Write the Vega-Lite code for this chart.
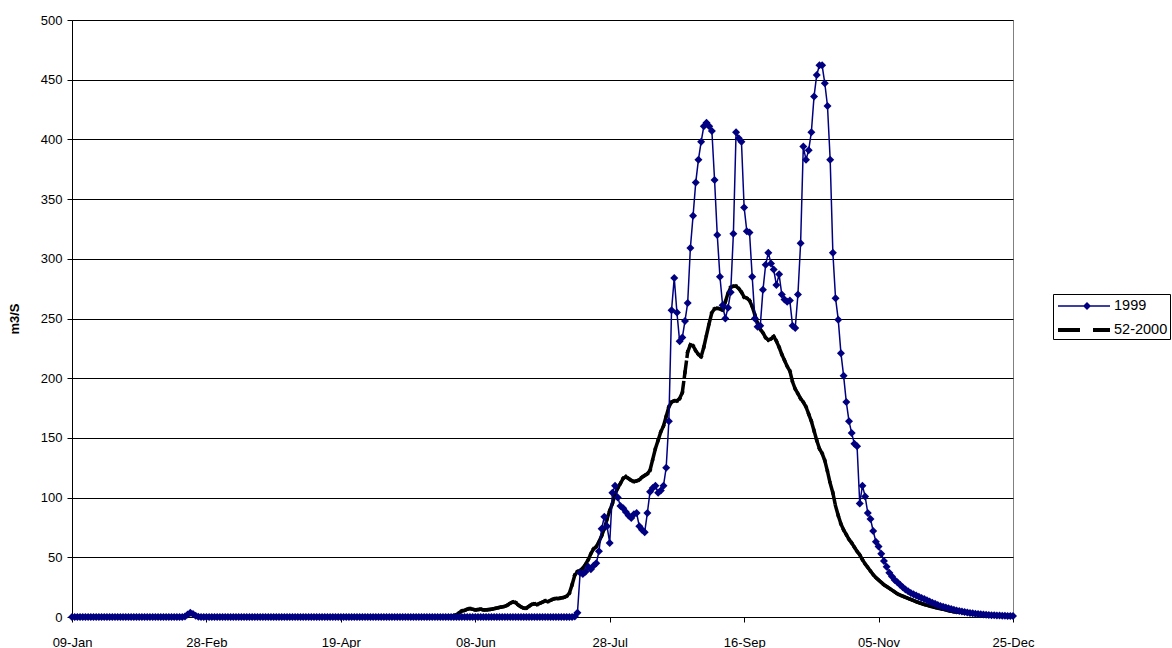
{
"$schema":"https://vega.github.io/schema/vega-lite/v6.json",
"width":941,"height":597,
"autosize":{"type":"none"},
"padding":{"left":72,"top":20,"right":159,"bottom":31},
"background":"white",
"config":{"view":{"stroke":"#808080","strokeWidth":1},"font":"Liberation Sans"},
"data":{"format":{"parse":{"d":"date:'%Y-%m-%d'"}},"values":[
{"d":"1999-01-09","y1999":0,"avg":0.3},{"d":"1999-01-10","y1999":0,"avg":0.3},{"d":"1999-01-11","y1999":0,"avg":0.3},{"d":"1999-01-12","y1999":0,"avg":0.3},{"d":"1999-01-13","y1999":0,"avg":0.3},{"d":"1999-01-14","y1999":0,"avg":0.3},{"d":"1999-01-15","y1999":0,"avg":0.3},{"d":"1999-01-16","y1999":0,"avg":0.3},{"d":"1999-01-17","y1999":0,"avg":0.3},{"d":"1999-01-18","y1999":0,"avg":0.3},{"d":"1999-01-19","y1999":0,"avg":0.3},{"d":"1999-01-20","y1999":0,"avg":0.3},{"d":"1999-01-21","y1999":0,"avg":0.3},{"d":"1999-01-22","y1999":0,"avg":0.3},{"d":"1999-01-23","y1999":0,"avg":0.3},{"d":"1999-01-24","y1999":0,"avg":0.3},{"d":"1999-01-25","y1999":0,"avg":0.3},{"d":"1999-01-26","y1999":0,"avg":0.3},{"d":"1999-01-27","y1999":0,"avg":0.3},{"d":"1999-01-28","y1999":0,"avg":0.3},{"d":"1999-01-29","y1999":0,"avg":0.3},{"d":"1999-01-30","y1999":0,"avg":0.3},{"d":"1999-01-31","y1999":0,"avg":0.3},
{"d":"1999-02-01","y1999":0,"avg":0.3},{"d":"1999-02-02","y1999":0,"avg":0.3},{"d":"1999-02-03","y1999":0,"avg":0.3},{"d":"1999-02-04","y1999":0,"avg":0.3},{"d":"1999-02-05","y1999":0,"avg":0.3},{"d":"1999-02-06","y1999":0,"avg":0.3},{"d":"1999-02-07","y1999":0,"avg":0.3},{"d":"1999-02-08","y1999":0,"avg":0.3},{"d":"1999-02-09","y1999":0,"avg":0.3},{"d":"1999-02-10","y1999":0,"avg":0.3},{"d":"1999-02-11","y1999":0,"avg":0.3},{"d":"1999-02-12","y1999":0,"avg":0.3},{"d":"1999-02-13","y1999":0,"avg":0.3},{"d":"1999-02-14","y1999":0,"avg":0.3},{"d":"1999-02-15","y1999":0,"avg":0.3},{"d":"1999-02-16","y1999":0,"avg":0.3},{"d":"1999-02-17","y1999":0,"avg":0.3},{"d":"1999-02-18","y1999":0,"avg":0.3},{"d":"1999-02-19","y1999":0,"avg":0.3},{"d":"1999-02-20","y1999":0.5,"avg":0.8},{"d":"1999-02-21","y1999":2,"avg":1.5},{"d":"1999-02-22","y1999":3.5,"avg":2.5},{"d":"1999-02-23","y1999":2.5,"avg":2},{"d":"1999-02-24","y1999":1,"avg":1},{"d":"1999-02-25","y1999":0.3,"avg":0.5},{"d":"1999-02-26","y1999":0,"avg":0.3},{"d":"1999-02-27","y1999":0,"avg":0.3},{"d":"1999-02-28","y1999":0,"avg":0.3},
{"d":"1999-03-01","y1999":0,"avg":0.3},{"d":"1999-03-02","y1999":0,"avg":0.3},{"d":"1999-03-03","y1999":0,"avg":0.3},{"d":"1999-03-04","y1999":0,"avg":0.3},{"d":"1999-03-05","y1999":0,"avg":0.3},{"d":"1999-03-06","y1999":0,"avg":0.3},{"d":"1999-03-07","y1999":0,"avg":0.3},{"d":"1999-03-08","y1999":0,"avg":0.3},{"d":"1999-03-09","y1999":0,"avg":0.3},{"d":"1999-03-10","y1999":0,"avg":0.3},{"d":"1999-03-11","y1999":0,"avg":0.3},{"d":"1999-03-12","y1999":0,"avg":0.3},{"d":"1999-03-13","y1999":0,"avg":0.3},{"d":"1999-03-14","y1999":0,"avg":0.3},{"d":"1999-03-15","y1999":0,"avg":0.3},{"d":"1999-03-16","y1999":0,"avg":0.3},{"d":"1999-03-17","y1999":0,"avg":0.3},{"d":"1999-03-18","y1999":0,"avg":0.3},{"d":"1999-03-19","y1999":0,"avg":0.3},{"d":"1999-03-20","y1999":0,"avg":0.3},{"d":"1999-03-21","y1999":0,"avg":0.3},{"d":"1999-03-22","y1999":0,"avg":0.3},{"d":"1999-03-23","y1999":0,"avg":0.3},{"d":"1999-03-24","y1999":0,"avg":0.3},{"d":"1999-03-25","y1999":0,"avg":0.3},{"d":"1999-03-26","y1999":0,"avg":0.3},{"d":"1999-03-27","y1999":0,"avg":0.3},{"d":"1999-03-28","y1999":0,"avg":0.3},{"d":"1999-03-29","y1999":0,"avg":0.3},{"d":"1999-03-30","y1999":0,"avg":0.3},{"d":"1999-03-31","y1999":0,"avg":0.3},
{"d":"1999-04-01","y1999":0,"avg":0.3},{"d":"1999-04-02","y1999":0,"avg":0.3},{"d":"1999-04-03","y1999":0,"avg":0.3},{"d":"1999-04-04","y1999":0,"avg":0.3},{"d":"1999-04-05","y1999":0,"avg":0.3},{"d":"1999-04-06","y1999":0,"avg":0.3},{"d":"1999-04-07","y1999":0,"avg":0.3},{"d":"1999-04-08","y1999":0,"avg":0.3},{"d":"1999-04-09","y1999":0,"avg":0.3},{"d":"1999-04-10","y1999":0,"avg":0.3},{"d":"1999-04-11","y1999":0,"avg":0.3},{"d":"1999-04-12","y1999":0,"avg":0.3},{"d":"1999-04-13","y1999":0,"avg":0.3},{"d":"1999-04-14","y1999":0,"avg":0.3},{"d":"1999-04-15","y1999":0,"avg":0.3},{"d":"1999-04-16","y1999":0,"avg":0.3},{"d":"1999-04-17","y1999":0,"avg":0.3},{"d":"1999-04-18","y1999":0,"avg":0.3},{"d":"1999-04-19","y1999":0,"avg":0.3},{"d":"1999-04-20","y1999":0,"avg":0.3},{"d":"1999-04-21","y1999":0,"avg":0.3},{"d":"1999-04-22","y1999":0,"avg":0.3},{"d":"1999-04-23","y1999":0,"avg":0.3},{"d":"1999-04-24","y1999":0,"avg":0.3},{"d":"1999-04-25","y1999":0,"avg":0.3},{"d":"1999-04-26","y1999":0,"avg":0.3},{"d":"1999-04-27","y1999":0,"avg":0.3},{"d":"1999-04-28","y1999":0,"avg":0.3},{"d":"1999-04-29","y1999":0,"avg":0.3},{"d":"1999-04-30","y1999":0,"avg":0.3},
{"d":"1999-05-01","y1999":0,"avg":0.3},{"d":"1999-05-02","y1999":0,"avg":0.3},{"d":"1999-05-03","y1999":0,"avg":0.3},{"d":"1999-05-04","y1999":0,"avg":0.3},{"d":"1999-05-05","y1999":0,"avg":0.3},{"d":"1999-05-06","y1999":0,"avg":0.3},{"d":"1999-05-07","y1999":0,"avg":0.3},{"d":"1999-05-08","y1999":0,"avg":0.3},{"d":"1999-05-09","y1999":0,"avg":0.3},{"d":"1999-05-10","y1999":0,"avg":0.3},{"d":"1999-05-11","y1999":0,"avg":0.3},{"d":"1999-05-12","y1999":0,"avg":0.3},{"d":"1999-05-13","y1999":0,"avg":0.3},{"d":"1999-05-14","y1999":0,"avg":0.3},{"d":"1999-05-15","y1999":0,"avg":0.3},{"d":"1999-05-16","y1999":0,"avg":0.3},{"d":"1999-05-17","y1999":0,"avg":0.3},{"d":"1999-05-18","y1999":0,"avg":0.3},{"d":"1999-05-19","y1999":0,"avg":0.3},{"d":"1999-05-20","y1999":0,"avg":0.3},{"d":"1999-05-21","y1999":0,"avg":0.3},{"d":"1999-05-22","y1999":0,"avg":0.3},{"d":"1999-05-23","y1999":0,"avg":0.3},{"d":"1999-05-24","y1999":0,"avg":0.3},{"d":"1999-05-25","y1999":0,"avg":0.3},{"d":"1999-05-26","y1999":0,"avg":0.3},{"d":"1999-05-27","y1999":0,"avg":0.3},{"d":"1999-05-28","y1999":0,"avg":0.3},{"d":"1999-05-29","y1999":0,"avg":0.5},{"d":"1999-05-30","y1999":0,"avg":0.8},{"d":"1999-05-31","y1999":0,"avg":1.2},
{"d":"1999-06-01","y1999":0,"avg":2},{"d":"1999-06-02","y1999":0,"avg":3.5},{"d":"1999-06-03","y1999":0,"avg":5},{"d":"1999-06-04","y1999":0,"avg":5.5},{"d":"1999-06-05","y1999":0,"avg":6.5},{"d":"1999-06-06","y1999":0,"avg":7},{"d":"1999-06-07","y1999":0,"avg":6.5},{"d":"1999-06-08","y1999":0,"avg":6},{"d":"1999-06-09","y1999":0,"avg":6.2},{"d":"1999-06-10","y1999":0,"avg":6.5},{"d":"1999-06-11","y1999":0,"avg":6},{"d":"1999-06-12","y1999":0,"avg":6},{"d":"1999-06-13","y1999":0,"avg":6.2},{"d":"1999-06-14","y1999":0,"avg":6.5},{"d":"1999-06-15","y1999":0,"avg":7},{"d":"1999-06-16","y1999":0,"avg":7.5},{"d":"1999-06-17","y1999":0,"avg":8},{"d":"1999-06-18","y1999":0,"avg":8.5},{"d":"1999-06-19","y1999":0,"avg":9},{"d":"1999-06-20","y1999":0,"avg":10},{"d":"1999-06-21","y1999":0,"avg":11.5},{"d":"1999-06-22","y1999":0,"avg":12.5},{"d":"1999-06-23","y1999":0,"avg":12},{"d":"1999-06-24","y1999":0,"avg":10},{"d":"1999-06-25","y1999":0,"avg":8.5},{"d":"1999-06-26","y1999":0,"avg":7.5},{"d":"1999-06-27","y1999":0,"avg":7.5},{"d":"1999-06-28","y1999":0,"avg":9},{"d":"1999-06-29","y1999":0,"avg":10.5},{"d":"1999-06-30","y1999":0,"avg":11},
{"d":"1999-07-01","y1999":0,"avg":10.5},{"d":"1999-07-02","y1999":0,"avg":11.5},{"d":"1999-07-03","y1999":0,"avg":12.5},{"d":"1999-07-04","y1999":0,"avg":13.5},{"d":"1999-07-05","y1999":0,"avg":13},{"d":"1999-07-06","y1999":0,"avg":14},{"d":"1999-07-07","y1999":0,"avg":15},{"d":"1999-07-08","y1999":0,"avg":15.5},{"d":"1999-07-09","y1999":0,"avg":15.5},{"d":"1999-07-10","y1999":0,"avg":16},{"d":"1999-07-11","y1999":0,"avg":16.5},{"d":"1999-07-12","y1999":0,"avg":17.5},{"d":"1999-07-13","y1999":0,"avg":20},{"d":"1999-07-14","y1999":0,"avg":27},{"d":"1999-07-15","y1999":0.5,"avg":35},{"d":"1999-07-16","y1999":3.5,"avg":38},{"d":"1999-07-17","y1999":37,"avg":39},{"d":"1999-07-18","y1999":36,"avg":41},{"d":"1999-07-19","y1999":38,"avg":44},{"d":"1999-07-20","y1999":42,"avg":48},{"d":"1999-07-21","y1999":40,"avg":53},{"d":"1999-07-22","y1999":43,"avg":57},{"d":"1999-07-23","y1999":45,"avg":59},{"d":"1999-07-24","y1999":55,"avg":63},{"d":"1999-07-25","y1999":74,"avg":68},{"d":"1999-07-26","y1999":84,"avg":74},{"d":"1999-07-27","y1999":76,"avg":82},{"d":"1999-07-28","y1999":62,"avg":89},{"d":"1999-07-29","y1999":104,"avg":95},{"d":"1999-07-30","y1999":110,"avg":103},{"d":"1999-07-31","y1999":100,"avg":108},
{"d":"1999-08-01","y1999":93,"avg":112},{"d":"1999-08-02","y1999":91,"avg":116},{"d":"1999-08-03","y1999":88,"avg":117.5},{"d":"1999-08-04","y1999":85,"avg":116},{"d":"1999-08-05","y1999":83,"avg":114.5},{"d":"1999-08-06","y1999":86,"avg":113.5},{"d":"1999-08-07","y1999":87,"avg":114},{"d":"1999-08-08","y1999":76,"avg":115},{"d":"1999-08-09","y1999":73,"avg":117},{"d":"1999-08-10","y1999":71,"avg":118.5},{"d":"1999-08-11","y1999":87,"avg":120},{"d":"1999-08-12","y1999":105,"avg":123},{"d":"1999-08-13","y1999":108,"avg":132},{"d":"1999-08-14","y1999":110,"avg":141},{"d":"1999-08-15","y1999":104,"avg":148},{"d":"1999-08-16","y1999":106,"avg":155},{"d":"1999-08-17","y1999":110,"avg":160},{"d":"1999-08-18","y1999":125,"avg":168},{"d":"1999-08-19","y1999":164,"avg":176},{"d":"1999-08-20","y1999":257,"avg":180},{"d":"1999-08-21","y1999":284,"avg":181},{"d":"1999-08-22","y1999":255,"avg":181},{"d":"1999-08-23","y1999":231,"avg":183},{"d":"1999-08-24","y1999":234,"avg":188},{"d":"1999-08-25","y1999":248,"avg":205},{"d":"1999-08-26","y1999":263,"avg":222},{"d":"1999-08-27","y1999":309,"avg":228},{"d":"1999-08-28","y1999":336,"avg":227},{"d":"1999-08-29","y1999":364,"avg":223},{"d":"1999-08-30","y1999":383,"avg":220},{"d":"1999-08-31","y1999":398,"avg":218},
{"d":"1999-09-01","y1999":411,"avg":226},{"d":"1999-09-02","y1999":414,"avg":236},{"d":"1999-09-03","y1999":411,"avg":246},{"d":"1999-09-04","y1999":407,"avg":255},{"d":"1999-09-05","y1999":366,"avg":258},{"d":"1999-09-06","y1999":320,"avg":258.5},{"d":"1999-09-07","y1999":285,"avg":258},{"d":"1999-09-08","y1999":261,"avg":257},{"d":"1999-09-09","y1999":250,"avg":264},{"d":"1999-09-10","y1999":259,"avg":271},{"d":"1999-09-11","y1999":272,"avg":276},{"d":"1999-09-12","y1999":321,"avg":277},{"d":"1999-09-13","y1999":406,"avg":277},{"d":"1999-09-14","y1999":401,"avg":275},{"d":"1999-09-15","y1999":398,"avg":272},{"d":"1999-09-16","y1999":343,"avg":268},{"d":"1999-09-17","y1999":323,"avg":267},{"d":"1999-09-18","y1999":322,"avg":265},{"d":"1999-09-19","y1999":285,"avg":260},{"d":"1999-09-20","y1999":250,"avg":253},{"d":"1999-09-21","y1999":243,"avg":246},{"d":"1999-09-22","y1999":244,"avg":241},{"d":"1999-09-23","y1999":274,"avg":238},{"d":"1999-09-24","y1999":295,"avg":234},{"d":"1999-09-25","y1999":305,"avg":232},{"d":"1999-09-26","y1999":296,"avg":233},{"d":"1999-09-27","y1999":291,"avg":235},{"d":"1999-09-28","y1999":278,"avg":231},{"d":"1999-09-29","y1999":287,"avg":226},{"d":"1999-09-30","y1999":270,"avg":220},
{"d":"1999-10-01","y1999":266,"avg":215},{"d":"1999-10-02","y1999":264,"avg":210},{"d":"1999-10-03","y1999":265,"avg":206},{"d":"1999-10-04","y1999":244,"avg":197},{"d":"1999-10-05","y1999":242,"avg":191},{"d":"1999-10-06","y1999":270,"avg":187},{"d":"1999-10-07","y1999":313,"avg":183},{"d":"1999-10-08","y1999":394,"avg":180},{"d":"1999-10-09","y1999":383,"avg":176},{"d":"1999-10-10","y1999":391,"avg":170},{"d":"1999-10-11","y1999":406,"avg":164},{"d":"1999-10-12","y1999":436,"avg":156},{"d":"1999-10-13","y1999":454,"avg":148},{"d":"1999-10-14","y1999":462,"avg":141},{"d":"1999-10-15","y1999":462,"avg":137},{"d":"1999-10-16","y1999":447,"avg":131},{"d":"1999-10-17","y1999":428,"avg":122},{"d":"1999-10-18","y1999":383,"avg":112},{"d":"1999-10-19","y1999":305,"avg":104},{"d":"1999-10-20","y1999":267,"avg":93},{"d":"1999-10-21","y1999":249,"avg":85},{"d":"1999-10-22","y1999":221,"avg":78},{"d":"1999-10-23","y1999":202,"avg":73},{"d":"1999-10-24","y1999":180,"avg":69},{"d":"1999-10-25","y1999":164,"avg":65},{"d":"1999-10-26","y1999":154,"avg":62},{"d":"1999-10-27","y1999":145,"avg":58.5},{"d":"1999-10-28","y1999":143,"avg":55},{"d":"1999-10-29","y1999":95,"avg":52},{"d":"1999-10-30","y1999":110,"avg":48},{"d":"1999-10-31","y1999":101,"avg":44.5},
{"d":"1999-11-01","y1999":87,"avg":41.5},{"d":"1999-11-02","y1999":82,"avg":38.5},{"d":"1999-11-03","y1999":72,"avg":35.5},{"d":"1999-11-04","y1999":63,"avg":33},{"d":"1999-11-05","y1999":59,"avg":31},{"d":"1999-11-06","y1999":53,"avg":29},{"d":"1999-11-07","y1999":47,"avg":27},{"d":"1999-11-08","y1999":42,"avg":25.5},{"d":"1999-11-09","y1999":37,"avg":24},{"d":"1999-11-10","y1999":34,"avg":22.5},{"d":"1999-11-11","y1999":31,"avg":21},{"d":"1999-11-12","y1999":29,"avg":19.5},{"d":"1999-11-13","y1999":27,"avg":18.4},{"d":"1999-11-14","y1999":25,"avg":17.4},{"d":"1999-11-15","y1999":23,"avg":16.5},{"d":"1999-11-16","y1999":21.5,"avg":15.6},{"d":"1999-11-17","y1999":20,"avg":14.7},{"d":"1999-11-18","y1999":19,"avg":13.8},{"d":"1999-11-19","y1999":18,"avg":12.8},{"d":"1999-11-20","y1999":17,"avg":12},{"d":"1999-11-21","y1999":16,"avg":11.2},{"d":"1999-11-22","y1999":15,"avg":10.5},{"d":"1999-11-23","y1999":14,"avg":9.9},{"d":"1999-11-24","y1999":13,"avg":9.2},{"d":"1999-11-25","y1999":12,"avg":8.6},{"d":"1999-11-26","y1999":11,"avg":8},{"d":"1999-11-27","y1999":10,"avg":7.5},{"d":"1999-11-28","y1999":9.3,"avg":7},{"d":"1999-11-29","y1999":8.6,"avg":6.5},{"d":"1999-11-30","y1999":8,"avg":6},
{"d":"1999-12-01","y1999":7.3,"avg":5.4},{"d":"1999-12-02","y1999":6.7,"avg":4.9},{"d":"1999-12-03","y1999":6,"avg":4.4},{"d":"1999-12-04","y1999":5.5,"avg":4.2},{"d":"1999-12-05","y1999":5,"avg":4},{"d":"1999-12-06","y1999":4.6,"avg":3.8},{"d":"1999-12-07","y1999":4.2,"avg":3.6},{"d":"1999-12-08","y1999":3.8,"avg":3.3},{"d":"1999-12-09","y1999":3.4,"avg":3.1},{"d":"1999-12-10","y1999":3.1,"avg":2.9},{"d":"1999-12-11","y1999":2.8,"avg":2.7},{"d":"1999-12-12","y1999":2.5,"avg":2.5},{"d":"1999-12-13","y1999":2.3,"avg":2.2},{"d":"1999-12-14","y1999":2.1,"avg":2},{"d":"1999-12-15","y1999":1.9,"avg":1.8},{"d":"1999-12-16","y1999":1.7,"avg":1.6},{"d":"1999-12-17","y1999":1.5,"avg":1.5},{"d":"1999-12-18","y1999":1.4,"avg":1.4},{"d":"1999-12-19","y1999":1.3,"avg":1.3},{"d":"1999-12-20","y1999":1.2,"avg":1.2},{"d":"1999-12-21","y1999":1.1,"avg":1.1},{"d":"1999-12-22","y1999":1,"avg":1},{"d":"1999-12-23","y1999":0.9,"avg":0.9},{"d":"1999-12-24","y1999":0.8,"avg":0.85},{"d":"1999-12-25","y1999":0.8,"avg":0.8}
]},
"encoding":{
"x":{"field":"d","type":"temporal",
"scale":{"domain":[{"year":1999,"month":1,"date":9},{"year":1999,"month":12,"date":25}]},
"axis":{"title":null,"format":"%d-%b","values":[{"year":1999,"month":1,"date":9},{"year":1999,"month":2,"date":28},{"year":1999,"month":4,"date":19},{"year":1999,"month":6,"date":8},{"year":1999,"month":7,"date":28},{"year":1999,"month":9,"date":16},{"year":1999,"month":11,"date":5},{"year":1999,"month":12,"date":25}],
"grid":false,"labelFontSize":13,"labelColor":"#000","labelFont":"Liberation Sans","tickColor":"#000","tickSize":5,"domainColor":"#000","labelPadding":14,"labelFlush":false,"labelOverlap":false,"labelAngle":0}}
},
"layer":[
{"transform":[{"fold":["y1999","avg"],"as":["series","flow"]}],
"mark":{"type":"point","filled":true,"opacity":0},
"encoding":{
"y":{"field":"flow","type":"quantitative","title":"m3/S","scale":{"domain":[0,500],"nice":false},
"axis":{"values":[0,50,100,150,200,250,300,350,400,450,500],"labelFontSize":13,"labelColor":"#000","labelFont":"Liberation Sans","tickColor":"#000","tickSize":5,"domainColor":"#000","gridColor":"#000","gridWidth":1,"labelPadding":5,"titleFontSize":13,"titleFont":"Liberation Sans","titleFontWeight":"bold","titleColor":"#000","titlePadding":19}},
"color":{"field":"series","type":"nominal","scale":{"domain":["y1999","avg"],"range":["#000080","#000000"]},
"legend":{"orient":"none","legendX":981,"legendY":274,"title":null,"padding":2,"strokeColor":"#000","fillColor":"#fff","labelFontSize":14.5,"labelFont":"Liberation Sans","labelColor":"#000","labelLimit":300,"symbolSize":400,"symbolStrokeWidth":0,"symbolOpacity":1,"rowPadding":7,"labelOffset":39,"labelExpr":"datum.value == 'y1999' ? '1999' : '52-2000\u00a0\u00a0\u00a0\u00a0\u00a0\u00a0\u00a0\u00a0'"}},
"shape":{"field":"series","type":"nominal","scale":{"domain":["y1999","avg"],"range":["M-0.7,-0.07H4.5V0.07H-0.7ZM1.8,0L2.2,-0.4L2.6,0L2.2,0.4Z","M-0.7,-0.2H1.5V0.2H-0.7ZM2.8,-0.2H4.5V0.2H2.8Z"]},
"legend":{"orient":"none","legendX":981,"legendY":274,"title":null,"padding":2,"strokeColor":"#000","fillColor":"#fff","labelFontSize":14.5,"labelFont":"Liberation Sans","labelColor":"#000","labelLimit":300,"symbolSize":400,"symbolStrokeWidth":0,"symbolOpacity":1,"rowPadding":7,"labelOffset":39,"labelExpr":"datum.value == 'y1999' ? '1999' : '52-2000\u00a0\u00a0\u00a0\u00a0\u00a0\u00a0\u00a0\u00a0'"}}
}},
{"transform":[{"window":[{"op":"lead","field":"d","as":"d2"},{"op":"lead","field":"avg","as":"a2"}],"sort":[{"field":"d","order":"ascending"}]},{"filter":"datum.d2 != null"}],
"mark":{"type":"rule","color":"#000","strokeWidth":3.5,"strokeDash":[10,6],"strokeCap":"square"},
"encoding":{"x2":{"field":"d2"},"y":{"field":"avg","type":"quantitative","title":"m3/S"},"y2":{"field":"a2"}}},
{"mark":{"type":"line","color":"#000080","strokeWidth":1.5},
"encoding":{"y":{"field":"y1999","type":"quantitative","title":"m3/S"}}},
{"mark":{"type":"point","shape":"diamond","filled":true,"color":"#000080","size":64,"opacity":1},
"encoding":{"y":{"field":"y1999","type":"quantitative","title":"m3/S"}}}
]
}
